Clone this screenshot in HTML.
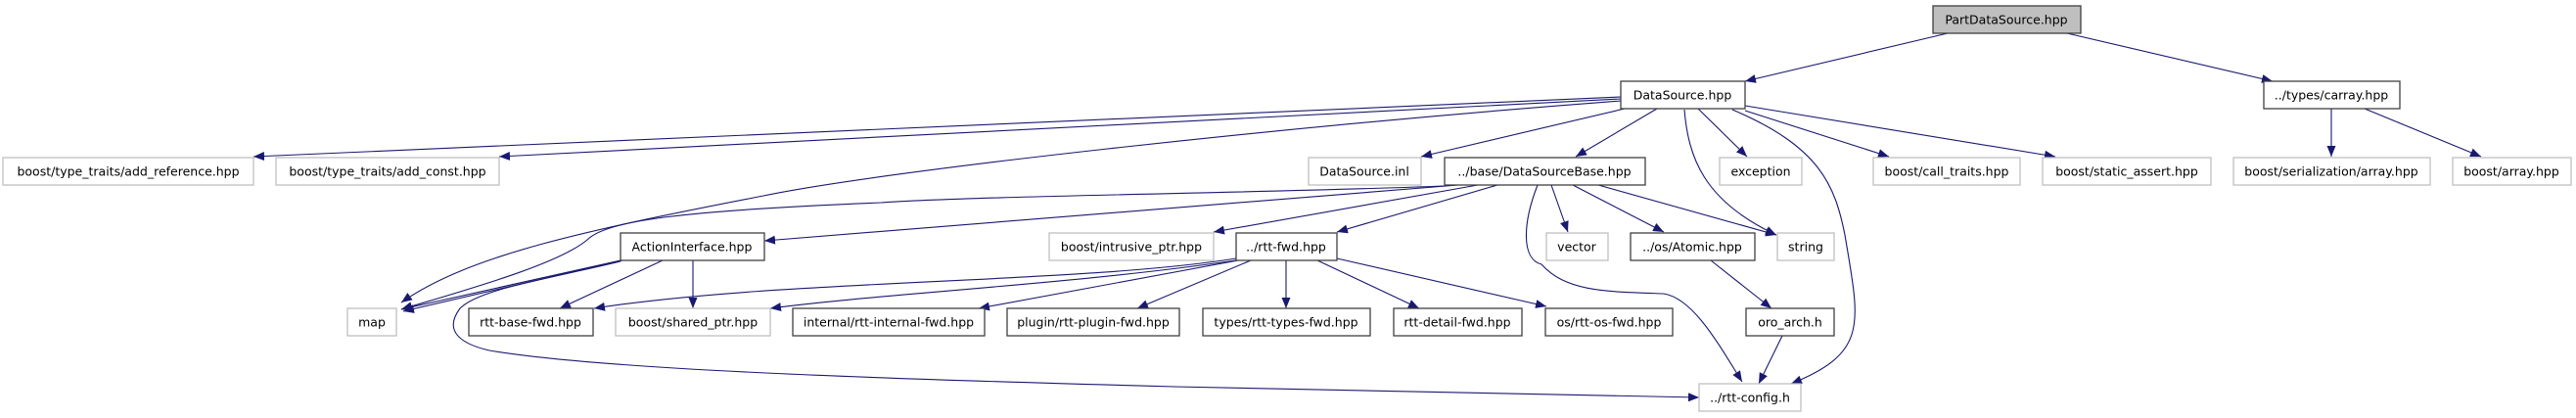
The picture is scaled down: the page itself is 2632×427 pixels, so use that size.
<!DOCTYPE html>
<html><head><meta charset="utf-8"><style>
html,body{margin:0;padding:0;background:#fff;}
svg{display:block;}
text{font-family:"DejaVu Sans","Liberation Sans",sans-serif;font-size:12.5px;fill:#000;}
</style></head><body>
<svg width="2632" height="427" viewBox="0 0 2632 427" xmlns="http://www.w3.org/2000/svg">
<defs>
<marker id="a" markerUnits="userSpaceOnUse" markerWidth="12" markerHeight="10" refX="11" refY="4.5" orient="auto">
<path d="M0,0 L11,4.5 L0,9 Z" fill="#191970"/>
</marker>
</defs>
<g fill="none" stroke="#191970" stroke-width="1.1" marker-end="url(#a)">
<!-- PartDataSource -->
<path d="M1990,34 L1783,83"/>
<path d="M2112,34 L2322,83"/>
<!-- DataSource.hpp -->
<path d="M1656,99 L259,160"/>
<path d="M1656,101 L510,160"/>
<path d="M1656,103 C1300,130 900,175 780,200 C600,235 480,260 410,309"/>
<path d="M1660,111 L1452,160"/>
<path d="M1693,111 L1610,160"/>
<path d="M1735,111 L1785,160"/>
<path d="M1721,112 C1725,160 1740,205 1815,240"/>
<path d="M1770,112 C1860,150 1875,190 1885,240 C1900,330 1910,360 1830,392"/>
<path d="M1783,113 L1930,160"/>
<path d="M1783,108 L2100,160"/>
<!-- DataSourceBase -->
<path d="M1476,190 C1300,197 1000,200 900,207 C700,215 620,225 600,245 C570,270 480,295 410,316"/>
<path d="M1490,189 L781,246"/>
<path d="M1510,189 L1240,237"/>
<path d="M1530,189 L1366,237"/>
<path d="M1571,189 C1555,230 1555,265 1575,270 C1600,298 1640,298 1700,300 C1730,305 1755,350 1780,390"/>
<path d="M1585,189 L1602,237"/>
<path d="M1607,189 L1700,237"/>
<path d="M1633,189 L1815,240"/>
<!-- ActionInterface -->
<path d="M634,266 L410,316"/>
<path d="M636,266 L412,318"/>
<path d="M677,266 L572,315"/>
<path d="M708,266 L708,315"/>
<path d="M634,267 C560,285 490,295 470,315 C455,335 465,350 500,358 C620,378 900,387 1200,395 L1736,406"/>
<!-- rtt-fwd -->
<path d="M1263,264 C1100,290 800,285 607,315"/>
<path d="M1263,266 C1100,290 900,300 787,315"/>
<path d="M1265,266 L1000,315"/>
<path d="M1278,266 L1162,315"/>
<path d="M1314,266 L1314,315"/>
<path d="M1346,266 L1450,315"/>
<path d="M1366,264 L1580,313"/>
<!-- others -->
<path d="M1748,266 L1810,315"/>
<path d="M1821,343 L1797,392"/>
<path d="M2382,111 L2382,160"/>
<path d="M2416,111 L2535,160"/>
</g>
<g stroke-width="1.3">
<!-- gray boxes -->
<g fill="#fff" stroke="#bfbfbf">
<rect x="3" y="161" width="256" height="28"/>
<rect x="282" y="161" width="228" height="28"/>
<rect x="1337" y="161" width="115" height="28"/>
<rect x="1757" y="161" width="84" height="28"/>
<rect x="1914" y="161" width="150" height="28"/>
<rect x="2087" y="161" width="172" height="28"/>
<rect x="2282" y="161" width="201" height="28"/>
<rect x="2506" y="161" width="121" height="28"/>
<rect x="1072" y="238" width="168" height="28"/>
<rect x="1580" y="238" width="63" height="28"/>
<rect x="1816" y="238" width="58" height="28"/>
<rect x="355" y="315" width="50" height="28"/>
<rect x="629" y="315" width="158" height="28"/>
<rect x="1736" y="392" width="104" height="28"/>
</g>
<g fill="#fff" stroke="#404040">
<rect x="1656" y="83" width="127" height="28"/>
<rect x="2313" y="83" width="139" height="28"/>
<rect x="1476" y="161" width="205" height="28"/>
<rect x="634" y="238" width="147" height="28"/>
<rect x="1263" y="238" width="103" height="28"/>
<rect x="1666" y="238" width="127" height="28"/>
<rect x="479" y="315" width="127" height="28"/>
<rect x="810" y="315" width="196" height="28"/>
<rect x="1029" y="315" width="176" height="28"/>
<rect x="1229" y="315" width="171" height="28"/>
<rect x="1424" y="315" width="131" height="28"/>
<rect x="1579" y="315" width="130" height="28"/>
<rect x="1784" y="315" width="90" height="28"/>
</g>
<rect x="1975" y="6" width="151" height="28" fill="#bfbfbf" stroke="#404040"/>
</g>
<g text-anchor="middle">
<text x="2050" y="24.5">PartDataSource.hpp</text>
<text x="1719" y="101.5">DataSource.hpp</text>
<text x="2382" y="101.5">../types/carray.hpp</text>
<text x="131" y="179.5">boost/type_traits/add_reference.hpp</text>
<text x="396" y="179.5">boost/type_traits/add_const.hpp</text>
<text x="1394" y="179.5">DataSource.inl</text>
<text x="1578" y="179.5">../base/DataSourceBase.hpp</text>
<text x="1799" y="179.5">exception</text>
<text x="1989" y="179.5">boost/call_traits.hpp</text>
<text x="2173" y="179.5">boost/static_assert.hpp</text>
<text x="2382" y="179.5">boost/serialization/array.hpp</text>
<text x="2566" y="179.5">boost/array.hpp</text>
<text x="707" y="256.5">ActionInterface.hpp</text>
<text x="1156" y="256.5">boost/intrusive_ptr.hpp</text>
<text x="1314" y="256.5">../rtt-fwd.hpp</text>
<text x="1611" y="256.5">vector</text>
<text x="1729" y="256.5">../os/Atomic.hpp</text>
<text x="1845" y="256.5">string</text>
<text x="380" y="333.5">map</text>
<text x="542" y="333.5">rtt-base-fwd.hpp</text>
<text x="708" y="333.5">boost/shared_ptr.hpp</text>
<text x="908" y="333.5">internal/rtt-internal-fwd.hpp</text>
<text x="1117" y="333.5">plugin/rtt-plugin-fwd.hpp</text>
<text x="1314" y="333.5">types/rtt-types-fwd.hpp</text>
<text x="1489" y="333.5">rtt-detail-fwd.hpp</text>
<text x="1644" y="333.5">os/rtt-os-fwd.hpp</text>
<text x="1829" y="333.5">oro_arch.h</text>
<text x="1788" y="410.5">../rtt-config.h</text>
</g>
</svg>
</body></html>
